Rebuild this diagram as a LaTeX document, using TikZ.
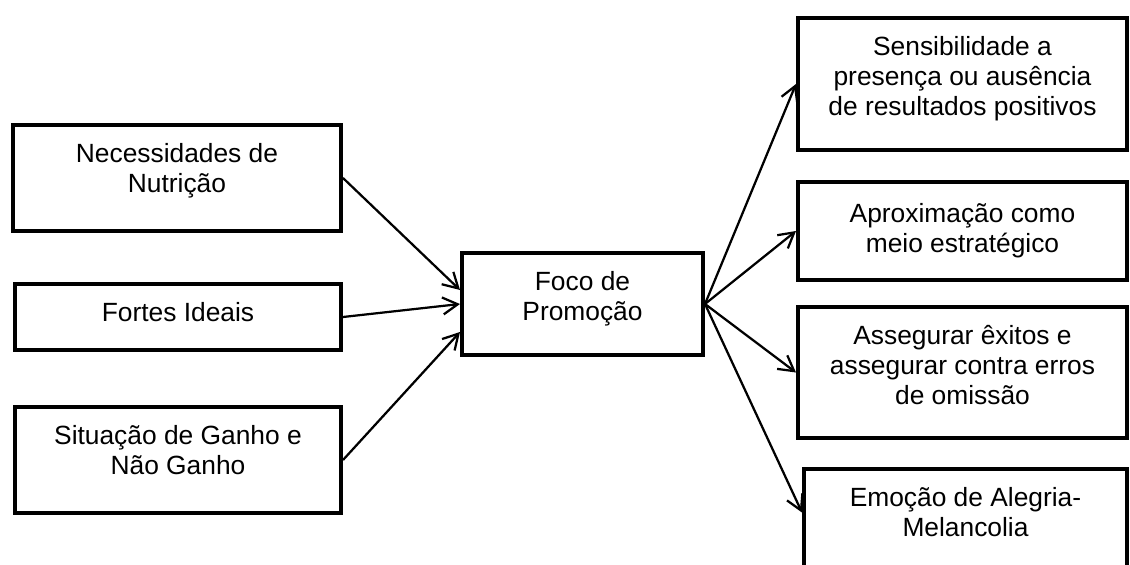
\documentclass[tikz,border=0pt]{standalone}
\usepackage{fontspec}
\setmainfont{Liberation Sans}
\usetikzlibrary{positioning,arrows.meta}

\begin{document}
\begin{tikzpicture}[x=0.02cm, y=-0.02cm,
  caixa/.style={draw, line width=0.08cm, inner sep=0pt},
  texto/.style={anchor=north, align=center, inner sep=0pt, font=\fontsize{15}{17.1}\selectfont},
  seta/.style={line width=0.045cm, -{Straight Barb[length=0.3cm, width=0.34cm]}}]
\def\u{0.02cm}
\def\dt{-20*\u}

\useasboundingbox (0,0) rectangle (1130,565);
\clip (0,0) rectangle (1130,565);

\node[caixa, minimum width=328*\u, minimum height=106*\u] (nec) at (177,178) {};
\node[caixa, minimum width=326*\u, minimum height=66*\u] (fortes) at (178,317) {};
\node[caixa, minimum width=326*\u, minimum height=106*\u] (sit) at (178,460) {};
\node[caixa, minimum width=241*\u, minimum height=102*\u] (foco) at (582.5,304) {};
\node[caixa, minimum width=329*\u, minimum height=132*\u] (sens) at (962.5,84) {};
\node[caixa, minimum width=329*\u, minimum height=98*\u] (apro) at (962.5,231) {};
\node[caixa, minimum width=329*\u, minimum height=131*\u] (asse) at (962.5,372.5) {};
\node[caixa, minimum width=323*\u, minimum height=131*\u] (emo) at (965.5,534.5) {};

\node[texto] (nec-t) at ([yshift=\dt]nec.north) {Necessidades de\\Nutrição};
\node[texto] (fortes-t) at ([yshift=\dt]fortes.north) {Fortes Ideais};
\node[texto] (sit-t) at ([yshift=\dt]sit.north) {Situação de Ganho e\\Não Ganho};
\node[texto] (foco-t) at ([yshift=\dt]foco.north) {Foco de\\Promoção};
\node[texto] (sens-t) at ([yshift=\dt]sens.north) {Sensibilidade a\\presença ou ausência\\de resultados positivos};
\node[texto] (apro-t) at ([yshift=-23*\u]apro.north) {Aproximação como\\meio estratégico};
\node[texto] (asse-t) at ([yshift=\dt]asse.north) {Assegurar êxitos e\\assegurar contra erros\\de omissão};
\node[texto] (emo-t) at ([yshift=\dt]emo.north) {Emoção de Alegria-\\Melancolia};

\draw[seta] (nec.east) -- ([yshift=14*\u]foco.west);
\draw[seta] (fortes.east) -- (foco.west);
\draw[seta] (sit.east) -- ([yshift=-28*\u]foco.west);
\draw[seta] (foco.east) -- (sens.west);
\draw[seta] (foco.east) -- (apro.west);
\draw[seta] (foco.east) -- (asse.west);
\draw[seta] (foco.east) -- ([yshift=22*\u]emo.west);

\end{tikzpicture}
\end{document}
